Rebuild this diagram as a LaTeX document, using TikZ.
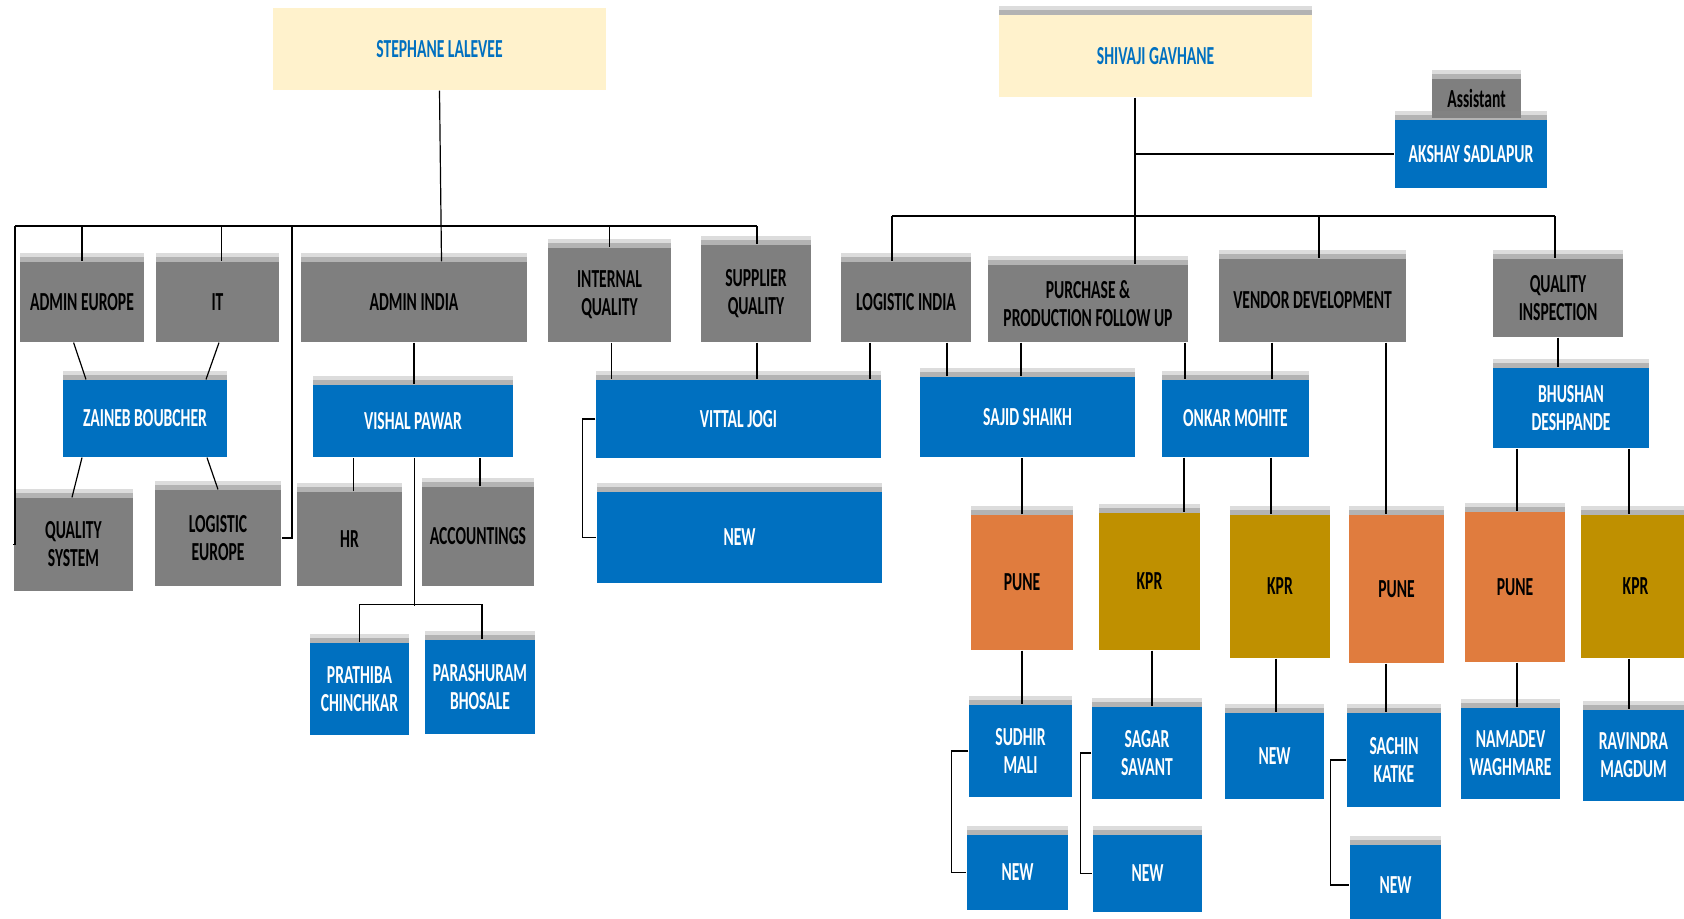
\documentclass[tikz,border=0pt]{standalone}
\usepackage{fontspec}
\usepackage{xcolor}
\usepackage{tikz}
\usetikzlibrary{shadows}
\newfontfamily\orgfont{Carlito}[FakeStretch=0.6]
\definecolor{headcream}{HTML}{FFF2CC}
\definecolor{headblue}{HTML}{0070C0}
\definecolor{deptgray}{HTML}{7F7F7F}
\definecolor{staffblue}{HTML}{0070C0}
\definecolor{puneorange}{HTML}{E07C3E}
\definecolor{kprgold}{HTML}{BF9000}

\begin{document}
\begin{tikzpicture}[x=0.5pt, y=-0.5pt, semithick, inner sep=1pt,
  plain box/.style={rectangle, align=center, font=\orgfont\bfseries\fontsize{13}{14}\selectfont},
  box/.style={plain box,
    drop shadow={shadow xshift=0pt, shadow yshift=4.5pt, fill=black!45, opacity=0.3},
    drop shadow={shadow xshift=0pt, shadow yshift=2.5pt, fill=black!50, opacity=0.45}},
  size/.style 2 args={minimum width=#1*0.5pt, minimum height=#2*0.5pt},
  head/.style={box, fill=headcream, text=headblue},
  dept/.style={box, fill=deptgray, text=black},
  staff/.style={box, fill=staffblue, text=white},
  pune/.style={box, fill=puneorange, text=black},
  kpr/.style={box, fill=kprgold, text=black}]
%
\useasboundingbox (0,0) rectangle (1684,918);
%
% left tree
\node (SL) [plain box, fill=headcream, text=headblue, size={333}{82}] at (439.5,49) {STEPHANE LALEVEE};
\node (AE) [dept, size={124}{80}] at (82,302) {ADMIN EUROPE};
\node (IT) [dept, size={123}{80}] at (217.5,302) {IT};
\node (AI) [dept, size={226}{80}] at (414,302) {ADMIN INDIA};
\node (IQ) [dept, size={123}{94}] at (609.5,295) {INTERNAL\\QUALITY};
\node (SQ) [dept, size={110}{97}] at (756,293.5) {SUPPLIER\\QUALITY};
\node (ZB) [staff, size={164}{77}] at (145,418.5) {ZAINEB BOUBCHER};
\node (VP) [staff, size={200}{72}] at (413,421) {VISHAL PAWAR};
\node (VJ) [staff, size={285}{78}] at (738.5,419) {VITTAL JOGI};
\node (QS) [dept, size={119}{93}] at (73.5,544.5) {QUALITY\\SYSTEM};
\node (LE) [dept, size={126}{96}] at (218,538) {LOGISTIC\\EUROPE};
\node (HR) [dept, size={105}{94}] at (349.5,539) {HR};
\node (AC) [dept, size={112}{99}] at (478,536.5) {ACCOUNTINGS};
\node (NV) [staff, size={285}{91}] at (739.5,537.5) {NEW};
\node (PC) [staff, size={99}{92}] at (359.5,689) {PRATHIBA\\CHINCHKAR};
\node (PB) [staff, size={110}{94}] at (480,687) {PARASHURAM\\BHOSALE};
%
% right tree
\node (SG) [head, size={313}{82}] at (1155.5,56) {SHIVAJI GAVHANE};
\node (AS) [dept, size={89}{39}] at (1476.5,98.5) {Assistant};
\node (AK) [staff, size={152}{68}] at (1471,154) {AKSHAY SADLAPUR};
\node (LI) [dept, size={130}{80}] at (906,302) {LOGISTIC INDIA};
\node (PP) [dept, size={200}{77}] at (1088,303.5) {PURCHASE \&\\PRODUCTION FOLLOW UP};
\node (VD) [dept, size={187}{83}] at (1312.5,300.5) {VENDOR DEVELOPMENT};
\node (QI) [dept, size={130}{78}] at (1558,298) {QUALITY\\INSPECTION};
\node (SS) [staff, size={215}{80}] at (1027.5,417) {SAJID SHAIKH};
\node (OM) [staff, size={147}{77}] at (1235.5,418.5) {ONKAR MOHITE};
\node (BD) [staff, size={156}{80}] at (1571,408) {BHUSHAN\\DESHPANDE};
\node (P1) [pune, size={102}{135}] at (1022,582.5) {PUNE};
\node (K1) [kpr, size={101}{137}] at (1149.5,581.5) {KPR};
\node (K2) [kpr, size={100}{143}] at (1280,586.5) {KPR};
\node (P2) [pune, size={95}{148}] at (1396.5,589) {PUNE};
\node (P3) [pune, size={100}{150}] at (1515,587) {PUNE};
\node (K3) [kpr, size={109}{143}] at (1635.5,586.5) {KPR};
\node (SM) [staff, size={103}{92}] at (1020.5,751) {SUDHIR\\MALI};
\node (N1) [staff, size={101}{75}] at (1017.5,872.5) {NEW};
\node (SV) [staff, size={110}{92}] at (1147,753) {SAGAR\\SAVANT};
\node (N2) [staff, size={109}{77}] at (1147.5,873.5) {NEW};
\node (N3) [staff, size={99}{86}] at (1274.5,756) {NEW};
\node (SK) [staff, size={94}{94}] at (1394,760) {SACHIN\\KATKE};
\node (N4) [staff, size={91}{80}] at (1395.5,885) {NEW};
\node (NW) [staff, size={99}{91}] at (1510.5,753.5) {NAMADEV\\WAGHMARE};
\node (RM) [staff, size={101}{91}] at (1633.5,755.5) {RAVINDRA\\MAGDUM};
%
\coordinate (busL) at (15,226);
\coordinate (busR) at (757,226);
\coordinate (busA) at (892,216);
\coordinate (busB) at (1555,216);
%
% left links
\draw (busL) -- (busR);
\draw (SL.south) -- ([xshift=1pt]SL.south |- AI.north);
\draw (AE.north |- busL) -- (AE.north);
\draw ([xshift=2pt]IT.north |- busL) -- ([xshift=2pt]IT.north);
\draw (IQ.north |- busL) -- (IQ.north);
\draw (busR) -- (SQ.north -| busR);
\draw (busL) |- (QS.west);
\draw (292,226) |- (LE.east);
\path ([xshift=-4.2pt]AE.south) edge ([xshift=-29.5pt]ZB.north);
\path ([xshift=0.75pt]IT.south) edge ([xshift=30.5pt]ZB.north);
\path ([xshift=-31.5pt]ZB.south) edge ([xshift=-0.75pt]QS.north);
\path ([xshift=31pt]ZB.south) edge (LE.north);
\draw (AI.south) -- (AI.south |- VP.north);
\draw ([xshift=2pt]HR.north) -- ([xshift=2pt]HR.north |- VP.south);
\draw ([xshift=1pt]AC.north) -- ([xshift=1pt]AC.north |- VP.south);
\draw ([xshift=0.75pt]VP.south) -- ++(0,148);
\draw (PC.north) -- ++(0,-38) -| ([xshift=1pt]PB.north);
\draw ([xshift=1pt]IQ.south) -- ([xshift=1pt]IQ.south |- VJ.north);
\draw ([xshift=0.5pt]SQ.south) -- ([xshift=0.5pt]SQ.south |- VJ.north);
\draw (VJ.west) -- ++(-13,0) |- (NV.west);
%
% right links
\draw ([xshift=-10.25pt]SG.south) -- ([xshift=-10.25pt]SG.south |- PP.north);
\draw[line width=1.4pt] ([xshift=-10.25pt]SG.south |- AK.west) -- (AK.west);
\draw (busA) -- (busB);
\draw (busA) -- (busA |- LI.north);
\draw ([xshift=3.25pt]VD.north |- busA) -- ([xshift=3.25pt]VD.north);
\draw (busB) -- (busB |- QI.north);
\draw ([xshift=-18pt]LI.south) -- ([xshift=-18pt]LI.south |- VJ.north);
\draw ([xshift=20.5pt]LI.south) -- ([xshift=20.5pt]LI.south |- SS.north);
\draw ([xshift=-33.5pt]PP.south) -- ([xshift=-33.5pt]PP.south |- SS.north);
\draw ([xshift=48.5pt]PP.south) -- ([xshift=48.5pt]PP.south |- OM.north);
\draw ([xshift=-20.25pt]VD.south) -- ([xshift=-20.25pt]VD.south |- OM.north);
\draw ([xshift=36.75pt]VD.south) -- ([xshift=36.75pt]VD.south |- P2.north);
\draw (QI.south) -- (QI.south |- BD.north);
\draw (P1.north) -- (P1.north |- SS.south);
\draw ([xshift=-25.75pt]OM.south) -- ([xshift=-25.75pt]OM.south |- K1.north);
\draw ([xshift=17.75pt]OM.south) -- ([xshift=17.75pt]OM.south |- K2.north);
\draw ([xshift=-27pt]BD.south) -- ([xshift=-27pt]BD.south |- P3.north);
\draw ([xshift=29pt]BD.south) -- ([xshift=29pt]BD.south |- K3.north);
\draw (P1.south) -- (P1.south |- SM.north);
\draw ([xshift=1.25pt]K1.south) -- ([xshift=1.25pt]K1.south |- SV.north);
\draw ([xshift=-2pt]K2.south) -- ([xshift=-2pt]K2.south |- N3.north);
\draw ([xshift=-5.25pt]P2.south) -- ([xshift=-5.25pt]P2.south |- SK.north);
\draw ([xshift=1pt]P3.south) -- ([xshift=1pt]P3.south |- NW.north);
\draw ([xshift=-3.25pt]K3.south) -- ([xshift=-3.25pt]K3.south |- RM.north);
\draw (SM.west) -- ++(-17,0) |- (N1.west);
\draw (SV.west) -- ++(-11,0) |- (N2.west);
\draw (SK.west) -- ++(-16,0) |- (N4.west);
\end{tikzpicture}
\end{document}
